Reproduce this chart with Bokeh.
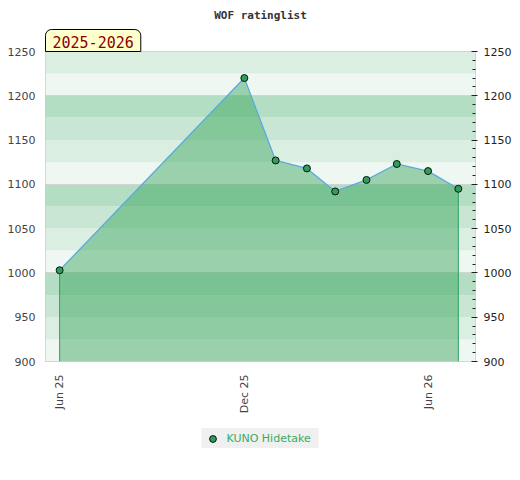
from datetime import datetime, timedelta
from math import pi
from bokeh.plotting import figure
from bokeh.layouts import column
from bokeh.models import (Range1d, LinearAxis, FixedTicker, SingleIntervalTicker,
                          DatetimeTickFormatter, Title, Legend, LegendItem)
from bokeh.embed import file_html
from bokeh.resources import INLINE

# ---- data ----
chart_title = "WOF ratinglist"
season = "2025-2026"
player = "KUNO Hidetake"
dates = ["2025-06-01", "2025-12-01", "2026-01-01", "2026-02-01", "2026-03-01",
         "2026-04-01", "2026-05-01", "2026-06-01", "2026-07-01"]
ratings = [1003, 1220, 1127, 1118, 1092, 1105, 1123, 1115, 1095]
x_tick_dates = ["2025-06-01", "2025-12-01", "2026-06-01"]
y_min, y_max = 900, 1250
grid_levels = [1000, 1100, 1200]

dt = [datetime.strptime(d, "%Y-%m-%d") for d in dates]
tick_dt = [datetime.strptime(d, "%Y-%m-%d") for d in x_tick_dates]
epoch = datetime(1970, 1, 1)
tick_ms = [(d - epoch).total_seconds() * 1000 for d in tick_dt]

x_start = dt[0] - timedelta(days=14)
x_end = dt[-1] + timedelta(days=17)

marker_style = dict(size=7, fill_color="#2e9e5b", line_color="#111111", line_width=1)

p = figure(frame_width=430, frame_height=310, x_axis_type="datetime",
           x_range=Range1d(x_start, x_end), y_range=Range1d(y_min, y_max),
           output_backend="svg", toolbar_location=None,
           min_border_left=45, min_border_right=45, min_border_top=50,
           min_border_bottom=55)

p.background_fill_color = "white"
p.border_fill_color = "white"
p.outline_line_color = "#cccccc"
p.xgrid.visible = False
p.ygrid.visible = False

# title
p.title.text = chart_title
p.title.align = "center"
p.title.text_font = "DejaVu Sans Mono"
p.title.text_font_style = "bold"
p.title.text_font_size = "11px"
p.title.text_color = "#333333"
p.title.standoff = 12

# season badge (as a title touching the frame)
badge = Title(text=season, align="left", standoff=0,
              text_font="DejaVu Sans Mono", text_font_size="15px",
              text_font_style="normal", text_color="#8b0000",
              background_fill_color="#ffffcc", border_line_color="black",
              border_line_width=1,
              padding=dict(left=7, right=7, top=6, bottom=4),
              border_radius=dict(top_left=6, top_right=6, bottom_left=0, bottom_right=0))
p.add_layout(badge, "above")

# background bands
band_colors = ["#eff7f2", "#dbeee2", "#c8e6d3", "#b3dec3"]
bottoms = list(range(y_min, y_max, 25))
tops = [b + 25 for b in bottoms]
cols = [band_colors[((b - y_min) // 25) % 4] for b in bottoms]
p.hstrip(y0=bottoms, y1=tops, fill_color=cols, line_color=None)
p.hspan(y=grid_levels, line_color="#c8c8c8", line_alpha=0.7, line_width=1)

# area, edges, line, markers
n = len(ratings)
p.varea(x=dt, y1=[y_min] * n, y2=ratings, fill_color="#2da151", fill_alpha=0.44)
p.segment(x0=[dt[0], dt[-1]], y0=[y_min, y_min], x1=[dt[0], dt[-1]],
          y1=[ratings[0], ratings[-1]], line_color="#2ca25f", line_width=1)
p.line(dt, ratings, line_color="#5aaade", line_width=1.3)
p.scatter(dt, ratings, **marker_style)

# x axis
xa = p.xaxis[0]
xa.ticker = FixedTicker(ticks=tick_ms)
xa.formatter = DatetimeTickFormatter(months="%b %y", days="%b %y", years="%b %y")
xa.major_label_orientation = pi / 2
xa.axis_line_color = None
xa.major_tick_line_color = None
xa.minor_tick_line_color = None
xa.major_tick_out = 0
xa.minor_tick_out = 0
xa.major_label_standoff = 13
xa.major_label_text_font = "DejaVu Sans"
xa.major_label_text_font_size = "11px"
xa.major_label_text_color = "#444444"

# left y axis
ya = p.yaxis[0]
ya.ticker = SingleIntervalTicker(interval=50)
ya.axis_line_color = None
ya.major_tick_line_color = None
ya.minor_tick_line_color = None
ya.major_tick_out = 0
ya.minor_tick_out = 0
ya.major_label_standoff = 10
ya.major_label_text_font = "DejaVu Sans"
ya.major_label_text_font_size = "11px"
ya.major_label_text_color = "#444444"

# right y axis
yr = LinearAxis(ticker=SingleIntervalTicker(interval=50, num_minor_ticks=5))
yr.axis_line_color = None
yr.major_tick_in = 4
yr.major_tick_out = 2
yr.minor_tick_in = 3
yr.minor_tick_out = 0
yr.major_tick_line_color = "#222222"
yr.minor_tick_line_color = "#222222"
yr.major_label_standoff = 6
yr.major_label_text_font = "DejaVu Sans"
yr.major_label_text_font_size = "11px"
yr.major_label_text_color = "#222222"
p.add_layout(yr, "right")

# legend strip below the chart (proxy renderer lies outside its view)
p2 = figure(width=520, height=44, output_backend="svg", toolbar_location=None,
            x_axis_location=None, y_axis_location=None, min_border=0,
            x_range=Range1d(0, 1), y_range=Range1d(0, 1))
p2.outline_line_color = None
p2.xgrid.visible = False
p2.ygrid.visible = False
proxy = p2.scatter(x=[dt[0]], y=[ratings[0]], **marker_style)
legend = Legend(items=[LegendItem(label=player, renderers=[proxy])],
                location="center", orientation="horizontal",
                background_fill_color="#f0f0f0", background_fill_alpha=1,
                border_line_color=None, label_text_color="#3aaa5f",
                label_text_font="DejaVu Sans", label_text_font_size="11px",
                glyph_width=22, glyph_height=17, label_height=20, label_width=92,
                label_standoff=3, padding=0, margin=0)
p2.add_layout(legend)

open("out.html", "w").write(file_html(column(p, p2, spacing=0), INLINE))
